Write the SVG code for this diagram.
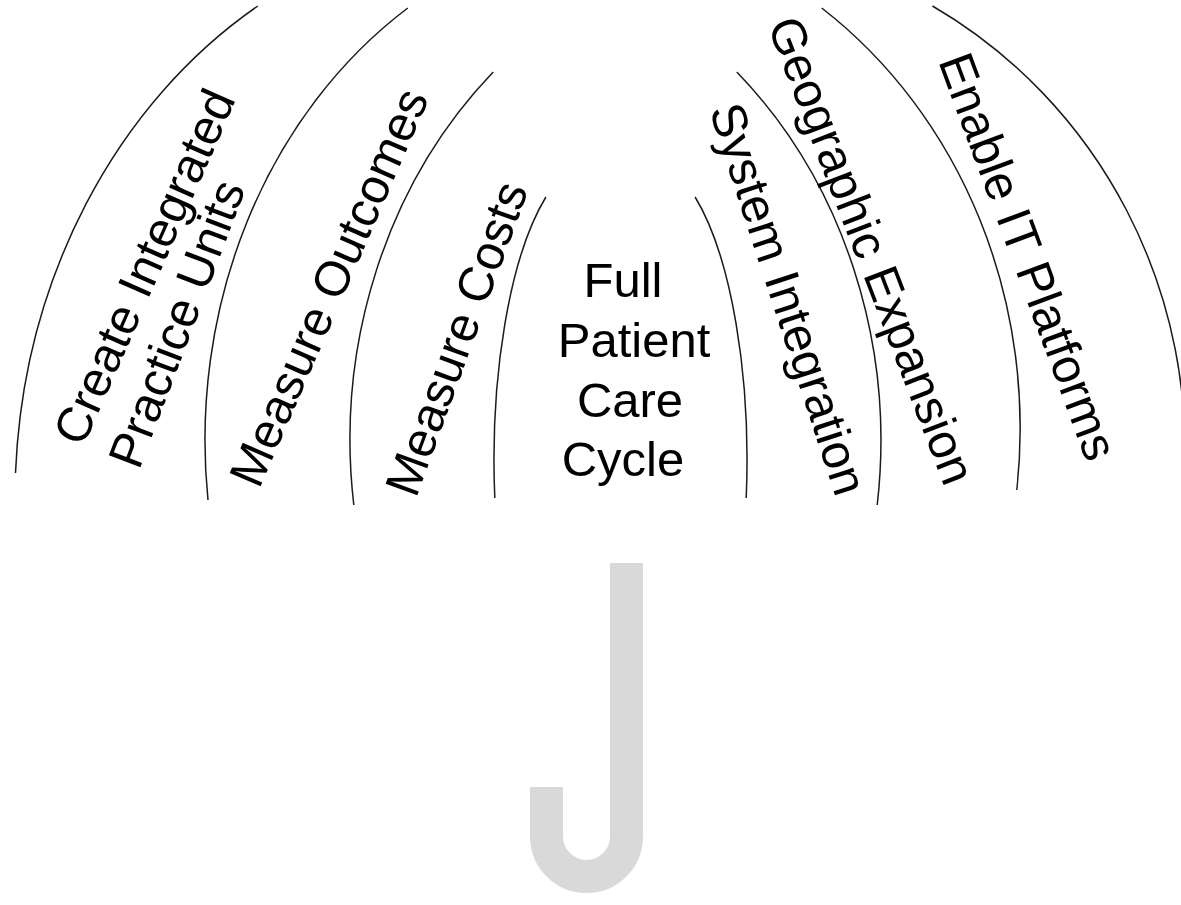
<svg xmlns="http://www.w3.org/2000/svg" width="1181" height="905" viewBox="0 0 1181 905">
  <style>
    .rib { fill: none; stroke: #1a1a1a; stroke-width: 1.5; }
    .label { font-family: "Liberation Sans", Arial, sans-serif; font-size: 49px; fill: #000; }
    .handle { fill: none; stroke: #d9d9d9; stroke-width: 33; stroke-linecap: butt; }
  </style>
  <rect width="1181" height="905" fill="#fff"/>

  <!-- umbrella ribs -->
  <g id="ribs">
    <path class="rib" d="M257.8,6 A500,576 0 0 0 15.5,473"/>
    <path class="rib" d="M407.8,8 A450,517 0 0 0 208,500"/>
    <path class="rib" d="M493.2,72 A450,503 0 0 0 353.8,505"/>
    <path class="rib" d="M545.9,197 A100,300 0 0 0 494.8,498"/>
    <path class="rib" d="M695.1,197 A100,300 0 0 1 746.2,498"/>
    <path class="rib" d="M736.8,72 A450,503 0 0 1 877.2,505"/>
    <path class="rib" d="M821.7,8 A470,515 0 0 1 1016.8,490"/>
    <path class="rib" d="M932.5,6 A500,511 0 0 1 1183.5,490"/>
  </g>

  <g id="create-integrated-practice-units">
    <text class="label" transform="translate(83,448) rotate(-66.3)">Create Integrated</text>
    <text class="label" transform="translate(139,471) rotate(-69.3)">Practice Units</text>
  </g>
  <g id="measure-outcomes">
    <text class="label" transform="translate(259,490) rotate(-66.5)">Measure Outcomes</text>
  </g>
  <g id="measure-costs">
    <text class="label" transform="translate(416,499) rotate(-70)">Measure Costs</text>
  </g>
  <g id="full-patient-care-cycle">
    <text class="label" text-anchor="middle" x="623" y="297">Full</text>
    <text class="label" text-anchor="middle" x="634" y="357">Patient</text>
    <text class="label" text-anchor="middle" x="630" y="417">Care</text>
    <text class="label" text-anchor="middle" x="623" y="476">Cycle</text>
  </g>
  <g id="system-integration">
    <text class="label" transform="translate(709,110) rotate(71.9)">System Integration</text>
  </g>
  <g id="geographic-expansion">
    <text class="label" transform="translate(767,25) rotate(69)">Geographic Expansion</text>
  </g>
  <g id="enable-it-platforms">
    <text class="label" transform="translate(938,61) rotate(69.7)">Enable IT Platforms</text>
  </g>

  <!-- handle -->
  <g id="handle">
    <path class="handle" d="M626.5,563 V836.5 A40,40 0 0 1 546.5,836.5 V787"/>
  </g>
</svg>
